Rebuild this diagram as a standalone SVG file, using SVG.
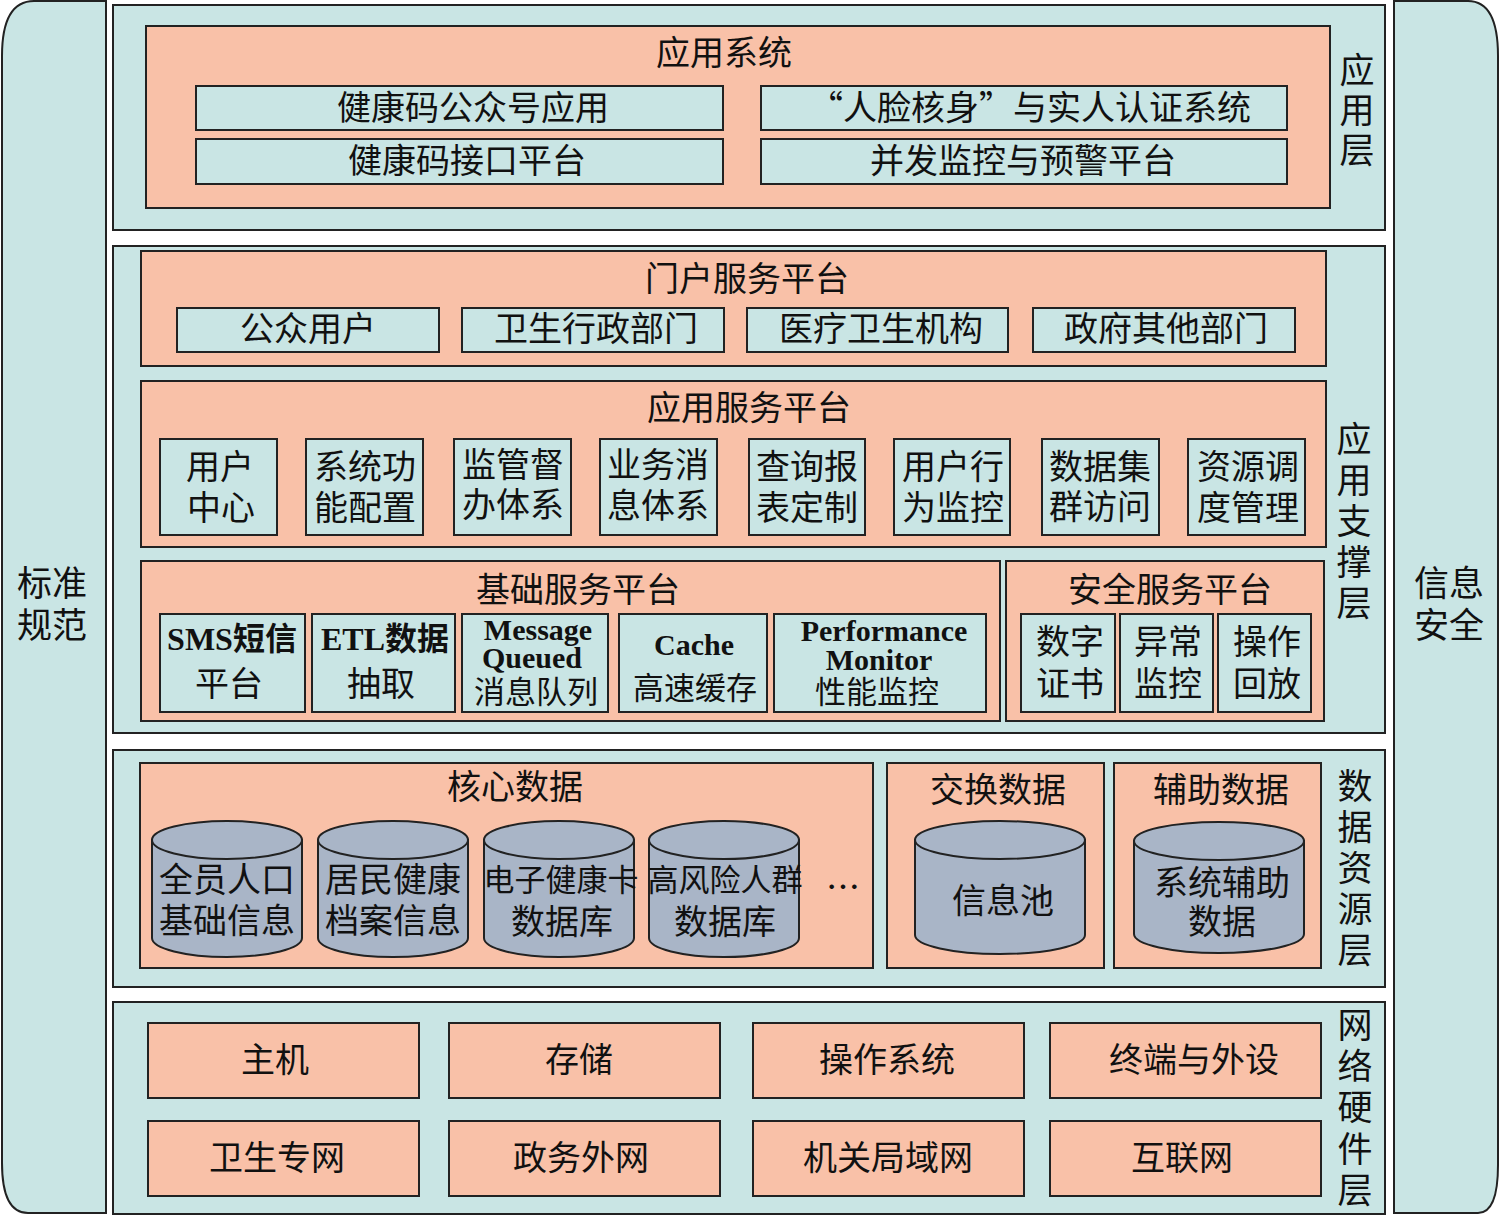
<svg xmlns="http://www.w3.org/2000/svg" width="1500" height="1216" viewBox="0 0 1500 1216">
<style>
.bg{fill:#ffffff}
.layer{fill:#C9E5E4;stroke:#222;stroke-width:2}
.org{fill:#F9C1A8;stroke:#222;stroke-width:2}
.box{fill:#C9E5E4;stroke:#222;stroke-width:2}
.cyl{fill:#A9B5C7;stroke:#222;stroke-width:2}
.t{font-family:"Noto Sans CJK SC","Noto Sans CJK JP",sans-serif;font-size:34px;fill:#111;text-anchor:middle;dominant-baseline:central;transform:translateY(-3px)}
.s{font-size:31px}
.lat{font-family:"Liberation Serif","Noto Sans CJK SC",serif;font-weight:bold;font-size:30px}
.side{font-size:35px}
</style>
<rect class="bg" x="0" y="0" width="1500" height="1216"/>

<g id="standards">
<path class="layer" d="M106,1 L34,1 Q2,1 2,56 L2,1163 Q2,1213 28,1213 L106,1213 Z"/>
<text class="t side"><tspan x="52" y="583">标准</tspan><tspan x="52" y="625">规范</tspan></text>
</g>

<g id="security-side">
<path class="layer" d="M1394,1 L1468,1 Q1498,1 1498,56 L1498,1165 Q1498,1213 1478,1213 L1394,1213 Z"/>
<text class="t side"><tspan x="1449" y="583">信息</tspan><tspan x="1449" y="625">安全</tspan></text>
</g>

<!-- Application layer -->
<g id="app-layer">
<rect class="layer" x="113" y="5" width="1272" height="225"/>
<text class="t side"><tspan x="1357" y="70">应</tspan><tspan x="1357" y="110">用</tspan><tspan x="1357" y="150">层</tspan></text>
</g>
<g id="app-system">
<rect class="org" x="146" y="26" width="1184" height="182"/>
<text class="t" x="724" y="53">应用系统</text>
</g>
<g id="n-jkm-gzh"><rect class="box" x="196" y="86" width="527" height="44"/><text class="t" x="473" y="108">健康码公众号应用</text></g>
<g id="n-rlhs"><rect class="box" x="761" y="86" width="526" height="44"/><text class="t" x="1030" y="108">“人脸核身”与实人认证系统</text></g>
<g id="n-jkm-jk"><rect class="box" x="196" y="139" width="527" height="45"/><text class="t" x="467" y="161">健康码接口平台</text></g>
<g id="n-bfjk"><rect class="box" x="761" y="139" width="526" height="45"/><text class="t" x="1023" y="161">并发监控与预警平台</text></g>

<!-- Application support layer -->
<g id="support-layer">
<rect class="layer" x="113" y="246" width="1272" height="487"/>
<text class="t side"><tspan x="1354" y="439">应</tspan><tspan x="1354" y="480">用</tspan><tspan x="1354" y="521">支</tspan><tspan x="1354" y="562">撑</tspan><tspan x="1354" y="603">层</tspan></text>
</g>
<g id="portal">
<rect class="org" x="141" y="251" width="1185" height="115"/>
<text class="t" x="747" y="279">门户服务平台</text>
</g>
<g id="n-gzyh"><rect class="box" x="177" y="308" width="262" height="44"/><text class="t" x="308" y="329">公众用户</text></g>
<g id="n-wsxz"><rect class="box" x="462" y="308" width="262" height="44"/><text class="t" x="596" y="329">卫生行政部门</text></g>
<g id="n-ylws"><rect class="box" x="747" y="308" width="261" height="44"/><text class="t" x="881" y="329">医疗卫生机构</text></g>
<g id="n-zfqt"><rect class="box" x="1033" y="308" width="262" height="44"/><text class="t" x="1166" y="329">政府其他部门</text></g>

<g id="app-service">
<rect class="org" x="141" y="381" width="1185" height="166"/>
<text class="t" x="749" y="408">应用服务平台</text>
</g>
<g id="n-yhzx"><rect class="box" x="160" y="439" width="117" height="96"/><text class="t"><tspan x="220" y="467">用户</tspan><tspan x="221" y="508">中心</tspan></text></g>
<g id="n-xtgn"><rect class="box" x="306" y="439" width="117" height="96"/><text class="t"><tspan x="365" y="467">系统功</tspan><tspan x="365" y="508">能配置</tspan></text></g>
<g id="n-jgdb"><rect class="box" x="454" y="439" width="117" height="96"/><text class="t"><tspan x="513" y="465">监管督</tspan><tspan x="513" y="505">办体系</tspan></text></g>
<g id="n-ywxx"><rect class="box" x="600" y="439" width="117" height="96"/><text class="t"><tspan x="658" y="465">业务消</tspan><tspan x="658" y="506">息体系</tspan></text></g>
<g id="n-cxbb"><rect class="box" x="749" y="439" width="116" height="96"/><text class="t"><tspan x="807" y="467">查询报</tspan><tspan x="807" y="508">表定制</tspan></text></g>
<g id="n-yhxw"><rect class="box" x="894" y="439" width="116" height="96"/><text class="t"><tspan x="953" y="467">用户行</tspan><tspan x="953" y="508">为监控</tspan></text></g>
<g id="n-sjjq"><rect class="box" x="1042" y="439" width="117" height="96"/><text class="t"><tspan x="1100" y="467">数据集</tspan><tspan x="1100" y="507">群访问</tspan></text></g>
<g id="n-zydd"><rect class="box" x="1188" y="439" width="117" height="96"/><text class="t"><tspan x="1248" y="467">资源调</tspan><tspan x="1248" y="508">度管理</tspan></text></g>

<g id="base-service">
<rect class="org" x="141" y="561" width="859" height="160"/>
<text class="t" x="578" y="590">基础服务平台</text>
</g>
<g id="n-sms"><rect class="box" x="160" y="614" width="145" height="98"/><text class="t"><tspan class="lat" x="232" y="642" style="font-size:32px">SMS短信</tspan><tspan x="229" y="684">平台</tspan></text></g>
<g id="n-etl"><rect class="box" x="312" y="614" width="143" height="98"/><text class="t"><tspan class="lat" x="385" y="642" style="font-size:32px">ETL数据</tspan><tspan x="381" y="684">抽取</tspan></text></g>
<g id="n-mq"><rect class="box" x="462" y="614" width="146" height="98"/><text class="t"><tspan class="lat" x="538" y="632">Message</tspan><tspan class="lat" x="532" y="660">Queued</tspan><tspan class="s" x="536" y="692">消息队列</tspan></text></g>
<g id="n-cache"><rect class="box" x="619" y="614" width="148" height="98"/><text class="t"><tspan class="lat" x="694" y="647">Cache</tspan><tspan class="s" x="695" y="688">高速缓存</tspan></text></g>
<g id="n-pm"><rect class="box" x="774" y="614" width="212" height="98"/><text class="t"><tspan class="lat" x="884" y="633">Performance</tspan><tspan class="lat" x="879" y="662">Monitor</tspan><tspan class="s" x="877" y="692">性能监控</tspan></text></g>

<g id="sec-service">
<rect class="org" x="1006" y="561" width="318" height="160"/>
<text class="t" x="1170" y="590">安全服务平台</text>
</g>
<g id="n-szzs"><rect class="box" x="1021" y="614" width="94" height="98"/><text class="t"><tspan x="1070" y="642">数字</tspan><tspan x="1070" y="684">证书</tspan></text></g>
<g id="n-ycjk"><rect class="box" x="1120" y="614" width="93" height="98"/><text class="t"><tspan x="1168" y="642">异常</tspan><tspan x="1168" y="684">监控</tspan></text></g>
<g id="n-czhf"><rect class="box" x="1218" y="614" width="93" height="98"/><text class="t"><tspan x="1267" y="642">操作</tspan><tspan x="1267" y="684">回放</tspan></text></g>

<!-- Data resource layer -->
<g id="data-layer">
<rect class="layer" x="113" y="750" width="1272" height="237"/>
<text class="t side"><tspan x="1355" y="786">数</tspan><tspan x="1355" y="827">据</tspan><tspan x="1355" y="868">资</tspan><tspan x="1355" y="909">源</tspan><tspan x="1355" y="950">层</tspan></text>
</g>
<g id="core-data">
<rect class="org" x="140" y="763" width="733" height="205"/>
<text class="t" x="515" y="787">核心数据</text>
<text class="t" x="843" y="888">…</text>
</g>
<g id="db-qyrk">
<path class="cyl" d="M152,840 V938 A75,19 0 0 0 302,938 V840 Z"/><ellipse class="cyl" cx="227" cy="840" rx="75" ry="19"/>
<text class="t"><tspan x="227" y="880">全员人口</tspan><tspan x="227" y="921">基础信息</tspan></text>
</g>
<g id="db-jmjk">
<path class="cyl" d="M318,840 V938 A75,19 0 0 0 468,938 V840 Z"/><ellipse class="cyl" cx="393" cy="840" rx="75" ry="19"/>
<text class="t"><tspan x="393" y="880">居民健康</tspan><tspan x="393" y="921">档案信息</tspan></text>
</g>
<g id="db-dzjkk">
<path class="cyl" d="M484,840 V938 A75,19 0 0 0 634,938 V840 Z"/><ellipse class="cyl" cx="559" cy="840" rx="75" ry="19"/>
<text class="t"><tspan class="s" x="561" y="880">电子健康卡</tspan><tspan x="562" y="922">数据库</tspan></text>
</g>
<g id="db-gfx">
<path class="cyl" d="M649,840 V938 A75,19 0 0 0 799,938 V840 Z"/><ellipse class="cyl" cx="724" cy="840" rx="75" ry="19"/>
<text class="t"><tspan class="s" x="725" y="880">高风险人群</tspan><tspan x="725" y="922">数据库</tspan></text>
</g>
<g id="exchange-data">
<rect class="org" x="887" y="763" width="217" height="205"/>
<text class="t" x="998" y="790">交换数据</text>
</g>
<g id="db-xxc">
<path class="cyl" d="M915,840 V935 A85,19 0 0 0 1085,935 V840 Z"/><ellipse class="cyl" cx="1000" cy="840" rx="85" ry="19"/>
<text class="t" x="1003" y="901">信息池</text>
</g>
<g id="aux-data">
<rect class="org" x="1114" y="763" width="207" height="205"/>
<text class="t" x="1221" y="790">辅助数据</text>
</g>
<g id="db-xtfz">
<path class="cyl" d="M1134,841 V934 A85,19 0 0 0 1304,934 V841 Z"/><ellipse class="cyl" cx="1219" cy="841" rx="85" ry="19"/>
<text class="t"><tspan x="1222" y="883">系统辅助</tspan><tspan x="1222" y="922">数据</tspan></text>
</g>

<!-- Network hardware layer -->
<g id="hw-layer">
<rect class="layer" x="113" y="1002" width="1272" height="212"/>
<text class="t side"><tspan x="1355" y="1025">网</tspan><tspan x="1355" y="1066">络</tspan><tspan x="1355" y="1107">硬</tspan><tspan x="1355" y="1149">件</tspan><tspan x="1355" y="1190">层</tspan></text>
</g>
<g id="n-zj"><rect class="org" x="148" y="1023" width="271" height="75"/><text class="t" x="275" y="1060">主机</text></g>
<g id="n-cc"><rect class="org" x="449" y="1023" width="271" height="75"/><text class="t" x="579" y="1060">存储</text></g>
<g id="n-czxt"><rect class="org" x="753" y="1023" width="271" height="75"/><text class="t" x="887" y="1060">操作系统</text></g>
<g id="n-zdws"><rect class="org" x="1050" y="1023" width="271" height="75"/><text class="t" x="1194" y="1060">终端与外设</text></g>
<g id="n-wszw"><rect class="org" x="148" y="1121" width="271" height="75"/><text class="t" x="277" y="1158">卫生专网</text></g>
<g id="n-zwww"><rect class="org" x="449" y="1121" width="271" height="75"/><text class="t" x="581" y="1158">政务外网</text></g>
<g id="n-jgjy"><rect class="org" x="753" y="1121" width="271" height="75"/><text class="t" x="888" y="1158">机关局域网</text></g>
<g id="n-hlw"><rect class="org" x="1050" y="1121" width="271" height="75"/><text class="t" x="1182" y="1158">互联网</text></g>

<g id="connectors"></g>
</svg>
